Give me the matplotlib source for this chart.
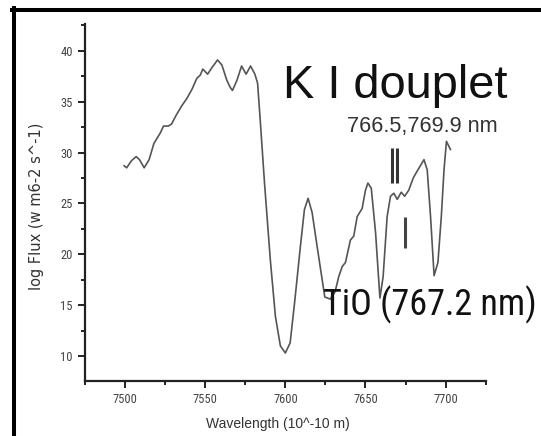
import matplotlib
matplotlib.use("Agg")
import matplotlib.pyplot as plt
from matplotlib.lines import Line2D
from matplotlib.ticker import MultipleLocator

# spectrum: wavelength (10^-10 m) and log flux
wavelength = [7499.4, 7501.0, 7504.0, 7506.9, 7509.0, 7511.9, 7515.0, 7518.0, 7521.9, 7524.0,
              7527.0, 7529.0, 7532.0, 7535.4, 7538.5, 7541.7, 7544.8, 7546.9, 7548.5, 7551.5,
              7554.0, 7557.7, 7560.4, 7563.5, 7565.6, 7567.0, 7569.8, 7572.7, 7575.5, 7578.3,
              7581.0, 7582.7, 7584.4, 7587.0, 7590.6, 7593.8, 7596.9, 7600.0, 7603.0, 7606.0,
              7609.4, 7611.9, 7614.2, 7616.7, 7619.8, 7622.3, 7624.6, 7628.0, 7631.0, 7633.3,
              7635.5, 7637.5, 7640.6, 7642.7, 7644.8, 7647.9, 7650.0, 7651.5, 7653.6, 7656.3,
              7659.0, 7661.0, 7663.5, 7665.6, 7667.7, 7669.8, 7672.3, 7674.4, 7677.0, 7679.8,
              7682.7, 7686.5, 7688.5, 7690.6, 7692.8, 7695.2, 7697.3, 7699.0, 7700.5, 7703.0]
log_flux = [28.7, 28.5, 29.2, 29.6, 29.3, 28.5, 29.3, 30.9, 31.9, 32.6,
            32.6, 32.8, 33.7, 34.6, 35.3, 36.2, 37.3, 37.6, 38.2, 37.7,
            38.3, 39.1, 38.6, 37.1, 36.4, 36.1, 37.1, 38.5, 37.7, 38.5,
            37.7, 36.8, 33.0, 27.0, 19.5, 13.9, 11.0, 10.3, 11.3, 15.6,
            20.8, 24.4, 25.5, 24.1, 20.8, 18.2, 15.8, 15.6, 16.3, 17.8,
            18.8, 19.2, 21.4, 21.8, 23.7, 24.5, 26.3, 27.0, 26.5, 22.1,
            15.7, 17.8, 23.7, 25.7, 26.0, 25.4, 26.1, 25.7, 26.3, 27.5,
            28.3, 29.3, 28.3, 23.7, 17.9, 19.2, 23.7, 28.3, 31.1, 30.3]

# line markers: K I doublet (two bars) and TiO (one bar)
ki_bars = [7666.7, 7669.8]
ki_span = (27.0, 30.4)
tio_bar = 7674.5
tio_span = (20.6, 23.7)

W, H = 541, 436
fig = plt.figure(figsize=(W / 100, H / 100), dpi=100)
ax = fig.add_axes([85 / W, 1 - 381 / H, 400.7 / W, 356.7 / H])

ax.plot(wavelength, log_flux, color="#555555", lw=1.2)

ax.vlines(ki_bars, *ki_span, color="#333333", lw=2.2)
ax.vlines([tio_bar], *tio_span, color="#444444", lw=2.2)

ax.set_xlim(7475, 7725)
ax.set_ylim(7.55, 42.6)
ax.xaxis.set_major_locator(MultipleLocator(50))
ax.xaxis.set_minor_locator(MultipleLocator(25))
ax.yaxis.set_major_locator(MultipleLocator(5))
ax.yaxis.set_minor_locator(MultipleLocator(2.5))

for s in ["top", "right"]:
    ax.spines[s].set_visible(False)
for s in ["left", "bottom"]:
    ax.spines[s].set_linewidth(1.6)
    ax.spines[s].set_color("#222222")

tick_font = ["Roboto Condensed", "DejaVu Sans"]
ax.tick_params(which="major", length=5, width=1.4, color="#222222",
               labelsize=9, labelcolor="#444444", pad=3.8)
ax.tick_params(which="minor", length=3, width=1.4, color="#222222")
for lab in ax.get_xticklabels() + ax.get_yticklabels():
    lab.set_family(tick_font)

ax.set_xlabel("Wavelength (10^-10 m)", family=["Liberation Sans", "DejaVu Sans"],
              fontsize=10, color="#333333", va="center")
ax.xaxis.set_label_coords(0.4817, -0.1205)
ax.set_ylabel("log Flux (w m6-2 s^-1)", family=["DejaVu Sans"],
              fontsize=10.5, color="#333333", va="center")
ax.yaxis.set_label_coords(-0.12, 0.489)

fig.text(283 / W, 1 - 98.3 / H, "K I douplet", family=["Liberation Sans", "DejaVu Sans"],
         fontsize=33.8, color="#111111", ha="left", va="baseline")
fig.text(347 / W, 1 - 132 / H, "766.5,769.9 nm", family=["Liberation Sans", "DejaVu Sans"],
         fontsize=15.6, color="#333333", ha="left", va="baseline")
fig.text(323 / W, 1 - 315.7 / H, "TiO (767.2 nm)", family=["Roboto Condensed", "DejaVu Sans"],
         fontsize=26, color="#111111", ha="left", va="baseline")

# black frame at top and left of the picture
fig.add_artist(Line2D([12 / W, 1], [1 - 10.3 / H] * 2, lw=2.9, color="black"))
fig.add_artist(Line2D([14 / W] * 2, [0, 1 - 8 / H], lw=2.9, color="black"))

fig.savefig("out.png", dpi=100)
